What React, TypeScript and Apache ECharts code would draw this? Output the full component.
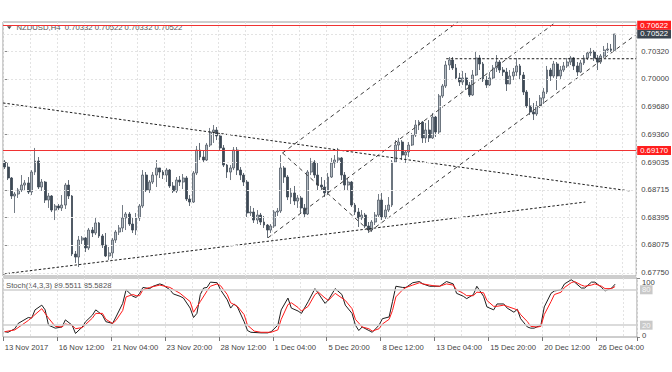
import React, { useEffect, useRef } from 'react';
import * as echarts from 'echarts';

const FONT = '"Liberation Sans", Arial, sans-serif';
const FS = 7.7;

const symbolName = 'NZDUSD,H4';
const timeLabels = ['13 Nov 2017', '16 Nov 12:00', '21 Nov 04:00', '23 Nov 20:00', '28 Nov 12:00', '1 Dec 04:00', '5 Dec 20:00', '8 Dec 12:00', '13 Dec 04:00', '15 Dec 20:00', '20 Dec 12:00', '26 Dec 04:00'];
const barsPerLabel = 16;
const barsPerGrid = 8;
const slots = 188; // bars + empty right shift

// prices in 1e-5 units
const firstOpen = 69037;
const closes = [
  68979, 68852, 68643, 68666, 68712, 68770, 68794, 68689, 68921, 69049,
  68747, 68805, 68596, 68643, 68480, 68527, 68504, 68538, 68770, 68643,
  67970, 67935, 68132, 68156, 68040, 68248, 68214, 68330, 68179, 68074,
  67947, 67982, 68132, 68225, 68272, 68388, 68434, 68318, 68248, 68388,
  68527, 68886, 68712, 68805, 68886, 68968, 68921, 68886, 68944, 68759,
  68701, 68828, 68805, 68852, 68608, 68573, 68910, 69176, 69095, 69060,
  69234, 69385, 69408, 69339, 69200, 69002, 68921, 68968, 69176, 68944,
  68886, 68805, 68446, 68457, 68364, 68422, 68341, 68306, 68248, 68295,
  68457, 68469, 68968, 68863, 68631, 68678, 68585, 68620, 68504, 68434,
  68921, 69037, 68886, 68770, 68747, 68678, 68863, 69026, 69060, 69084,
  68886, 68770, 68805, 68538, 68457, 68388, 68422, 68295, 68248, 68341,
  68422, 68596, 68399, 68480, 68538, 69037, 69234, 69269, 69118, 69153,
  69234, 69350, 69466, 69501, 69316, 69408, 69316, 69559, 69385, 69803,
  69919, 70162, 70220, 70128, 70012, 69965, 70012, 69930, 69814, 70046,
  70244, 70174, 69988, 69930, 70012, 70128, 70197, 70104, 70081, 69942,
  70035, 70081, 70151, 70046, 69849, 69687, 69617, 69594, 69687, 69780,
  69849, 70104, 70035, 70174, 70035, 70104, 70151, 70197, 70244, 70151,
  70081, 70186, 70244, 70302, 70313, 70244, 70197, 70267, 70336, 70348,
  70332, 70522,
];
const highs = [
  69060, 69026, 68863, 68689, 68736, 68886, 68828, 68863, 68944, 69200,
  69095, 68840, 68817, 68678, 68654, 68550, 68550, 68654, 68794, 68828,
  68654, 68005, 68179, 68179, 68167, 68272, 68283, 68388, 68341, 68202,
  68214, 68051, 68156, 68248, 68306, 68538, 68457, 68457, 68388, 68446,
  68550, 68944, 68921, 68828, 68921, 69060, 68968, 68944, 68968, 68956,
  68805, 68863, 68875, 68898, 68875, 68654, 68933, 69223, 69258, 69165,
  69258, 69432, 69466, 69443, 69374, 69234, 69014, 69002, 69211, 69211,
  68979, 68910, 68828, 68527, 68504, 68480, 68446, 68411, 68318, 68318,
  68480, 68504, 69118, 68991, 68886, 68736, 68759, 68654, 68643, 68550,
  68944, 69084, 69060, 69026, 68863, 68828, 68910, 69084, 69118, 69200,
  69095, 68921, 68852, 68817, 68562, 68504, 68480, 68446, 68341, 68364,
  68457, 68666, 68678, 68538, 68631, 69060, 69292, 69316, 69292, 69176,
  69269, 69374, 69524, 69524, 69513, 69490, 69524, 69606, 69571, 69826,
  69942, 70209, 70255, 70255, 70174, 70070, 70093, 70070, 69965, 70104,
  70313, 70278, 70197, 70035, 70081, 70162, 70278, 70220, 70139, 70128,
  70104, 70128, 70244, 70174, 70081, 69872, 69780, 69722, 69745, 69814,
  69896, 70151, 70128, 70209, 70197, 70151, 70197, 70244, 70267, 70255,
  70197, 70220, 70278, 70325, 70360, 70336, 70278, 70290, 70383, 70418,
  70406, 70522,
];
const lows = [
  68956, 68828, 68608, 68446, 68620, 68689, 68712, 68666, 68654, 68886,
  68724, 68701, 68562, 68504, 68457, 68364, 68480, 68469, 68492, 68608,
  67947, 67866, 67819, 68086, 67993, 68016, 68167, 68190, 68156, 68040,
  67935, 67900, 67924, 68098, 68190, 68225, 68248, 68295, 68214, 68190,
  68353, 68504, 68689, 68678, 68782, 68747, 68852, 68840, 68805, 68736,
  68678, 68678, 68759, 68724, 68585, 68527, 68562, 68886, 69060, 69026,
  69049, 69211, 69258, 69292, 69176, 68979, 68852, 68828, 68944, 68886,
  68828, 68759, 68399, 68411, 68330, 68318, 68306, 68272, 68156, 68214,
  68272, 68411, 68446, 68794, 68596, 68550, 68538, 68504, 68446, 68399,
  68422, 68886, 68852, 68712, 68712, 68631, 68654, 68852, 68968, 69026,
  68828, 68712, 68712, 68515, 68422, 68283, 68364, 68272, 68214, 68225,
  68306, 68399, 68364, 68376, 68457, 68515, 69026, 69176, 69060, 69026,
  69095, 69223, 69327, 69408, 69258, 69258, 69269, 69304, 69327, 69362,
  69780, 69896, 70104, 70104, 69988, 69919, 69930, 69872, 69791, 69803,
  70035, 70104, 69965, 69896, 69919, 69988, 70081, 70070, 70035, 69861,
  69942, 69988, 70035, 69988, 69814, 69664, 69582, 69524, 69571, 69664,
  69710, 69826, 69977, 70012, 69872, 69988, 70081, 70128, 70162, 70104,
  70035, 70070, 70162, 70220, 70267, 70209, 70104, 70174, 70244, 70302,
  70313, 70332,
];

const priceTicks = [0.6775, 0.68075, 0.68395, 0.68715, 0.69035, 0.6936, 0.6968, 0.7, 0.7032];
const priceMin = 0.67715;
const priceMax = 0.70661;
const redLevels = [0.70622, 0.6917];
const bidLevel = 0.70522;
const lastOHLC = [0.70332, 0.70522, 0.70332, 0.70522];

// trend objects: [barIndex, price]
const dottedLines = [
  [[-0.5, 0.69722], [185.7, 0.68701]],
  [[-0.5, 0.67738], [172.4, 0.68573]],
  [[131.1, 0.70235], [187.5, 0.70235]],
];
const channelLines = [
  [[82.5, 0.69142], [134.5, 0.70661]],
  [[78.2, 0.68159], [163.7, 0.70661]],
  [[108.3, 0.68229], [187.4, 0.70514]],
  [[82.5, 0.69142], [108.3, 0.68237]],
];

const stochK = [[0,9],[1,8],[3,14],[4,23],[7,33],[8,32],[9,46],[11,54],[12,46],[13,20],[15,15],[17,17],[18,29],[20,20],[21,6],[23,17],[24,26],[26,37],[27,46],[29,37],[30,26],[32,23],[33,34],[35,57],[36,80],[38,69],[39,67],[40,74],[41,84],[43,82],[44,86],[46,90],[47,88],[49,80],[50,73],[52,69],[53,66],[55,49],[56,33],[57,40],[58,72],[59,83],[60,84],[61,93],[63,92],[64,80],[66,63],[67,49],[68,56],[69,51],[71,26],[72,11],[73,8],[76,7],[78,7],[79,9],[81,20],[82,46],[84,66],[85,49],[87,44],[88,40],[90,60],[92,82],[93,74],[95,57],[96,63],[98,82],[100,72],[101,54],[103,40],[104,20],[105,11],[106,17],[108,11],[109,8],[111,20],[112,31],[114,34],[115,60],[116,86],[118,84],[119,84],[121,92],[123,94],[124,90],[126,86],[127,86],[129,86],[131,94],[133,90],[134,74],[136,69],[137,65],[139,72],[140,86],[142,69],[143,51],[145,46],[146,56],[148,56],[149,49],[151,42],[152,47],[153,31],[155,17],[156,15],[157,15],[159,20],[160,51],[162,74],[163,78],[165,80],[166,90],[168,97],[169,93],[171,83],[172,83],[174,93],[175,93],[177,84],[178,78],[180,83],[181,89.5511]];
const stochD = [[0,9],[3,12],[7,28],[9,38],[11,48],[13,32],[15,18],[17,17],[18,22],[20,20],[21,14],[23,16],[26,32],[27,40],[29,40],[30,30],[32,23],[33,28],[35,45],[36,68],[38,72],[39,70],[40,70],[41,80],[43,84],[46,88],[49,84],[52,74],[55,60],[56,42],[58,60],[60,78],[61,86],[63,90],[64,87],[66,72],[67,58],[69,52],[71,38],[72,20],[74,10],[76,8],[79,8],[81,12],[82,30],[84,55],[85,58],[87,50],[88,44],[90,52],[92,72],[93,76],[95,66],[96,62],[98,74],[101,62],[103,48],[104,30],[106,17],[108,14],[109,10],[111,14],[112,22],[114,30],[115,45],[116,68],[118,80],[119,84],[121,88],[123,92],[124,90],[126,88],[127,87],[129,86],[131,90],[133,88],[134,80],[136,74],[137,70],[139,70],[140,76],[142,75],[143,62],[145,52],[146,52],[148,54],[149,52],[151,48],[152,46],[153,38],[155,26],[156,18],[158,17],[159,18],[160,38],[162,60],[163,72],[165,76],[166,84],[168,92],[169,94],[171,88],[172,86],[174,88],[175,90],[177,86],[178,82],[180,82],[181,85.5828]];
const stochLevels = [20, 80];
const stochParams = '14,3,3';

export default function App() {
  const ref = useRef<HTMLDivElement>(null);
  useEffect(() => {
    if (!ref.current) return;
    const chart = echarts.init(ref.current, null, { renderer: 'svg' });

    const candles = closes.map((c, i) => [
      (i === 0 ? firstOpen : closes[i - 1]) / 1e5,
      c / 1e5,
      lows[i] / 1e5,
      highs[i] / 1e5,
    ]);
    const cats = Array.from({ length: slots }, (_, i) =>
      i % barsPerLabel === 0 && i / barsPerLabel < timeLabels.length ? timeLabels[i / barsPerLabel] : `b${i}`
    );
    const labelInterval = (i: number) => i % barsPerLabel === 0 && i / barsPerLabel < timeLabels.length;
    const gridInterval = (i: number) => i % barsPerGrid === 0;
    const gridLine = () => ({ color: '#e3e3e3', type: [2, 2], width: 1 });

    const fmt = (v: number) => v.toFixed(5);
    const lastK = stochK[stochK.length - 1][1];
    const lastD = stochD[stochD.length - 1][1];

    const trendSeries: any[] = [
      ...dottedLines.map((pts) => ({
        type: 'line', xAxisIndex: 2, yAxisIndex: 0, data: pts, symbol: 'none', silent: true, z: 4,
        lineStyle: { color: '#1e1e1e', width: 1, type: [2.5, 2] },
      })),
      ...channelLines.map((pts) => ({
        type: 'line', xAxisIndex: 2, yAxisIndex: 0, data: pts, symbol: 'none', silent: true, z: 4,
        lineStyle: { color: '#3c3c3c', width: 1, type: [4, 3.5] },
      })),
    ];

    const boxLabel = (bg: string, v: number) => ({
      show: true, position: 'end', distance: 1, backgroundColor: bg, color: '#ffffff',
      fontSize: FS, fontFamily: FONT, padding: [1, 3, 0, 3], lineHeight: 8, formatter: fmt(v),
    });

    chart.setOption({
      animation: false,
      backgroundColor: '#ffffff',
      textStyle: { fontFamily: FONT },
      grid: [
        { left: 3, top: 22, width: 634, height: 254, show: true, borderColor: '#9c9c9c', borderWidth: 1 },
        { left: 3, top: 278, width: 634, height: 59, show: true, borderColor: '#9c9c9c', borderWidth: 1 },
      ],
      xAxis: [
        {
          type: 'category', gridIndex: 0, data: cats, boundaryGap: true,
          axisLine: { show: false }, axisTick: { show: false }, axisLabel: { show: false },
          splitLine: { show: true, interval: gridInterval, lineStyle: gridLine() },
        },
        {
          type: 'category', gridIndex: 1, data: cats, boundaryGap: true,
          axisLine: { show: false },
          axisTick: { show: true, interval: labelInterval, length: 4, lineStyle: { color: '#777' } },
          axisLabel: { show: true, interval: labelInterval, align: 'left', margin: 6, color: '#444', fontSize: FS, fontFamily: FONT },
          splitLine: { show: true, interval: gridInterval, lineStyle: gridLine() },
        },
        { type: 'value', gridIndex: 0, min: -0.5, max: slots - 0.5, show: false, position: 'top' },
      ],
      yAxis: [
        {
          type: 'value', gridIndex: 0, position: 'right', min: priceMin, max: priceMax,
          axisLine: { show: false },
          axisTick: { show: true, customValues: priceTicks, length: 3, lineStyle: { color: '#888' } },
          axisLabel: { customValues: priceTicks, formatter: fmt, margin: 5, color: '#444', fontSize: FS, fontFamily: FONT },
          splitLine: { show: false },
        },
        {
          type: 'value', gridIndex: 1, position: 'right', min: 0, max: 100,
          axisLine: { show: false },
          axisTick: { show: true, customValues: [0, 100], length: 3, lineStyle: { color: '#888' } },
          axisLabel: {
            customValues: [0, 100], margin: 5, color: '#444', fontSize: FS, fontFamily: FONT,
            formatter: (v: number) => (v === 100 ? '{hi|100}' : '{lo|0}'),
            rich: {
              hi: { padding: [8, 0, 0, 0], fontSize: FS, fontFamily: FONT, color: '#444' },
              lo: { padding: [0, 0, 3, 0], fontSize: FS, fontFamily: FONT, color: '#444' },
            },
          },
          splitLine: { show: false },
        },
      ],
      series: [
        {
          type: 'candlestick', xAxisIndex: 0, yAxisIndex: 0, data: candles, barWidth: 2.4, z: 3,
          itemStyle: { color: '#b3bac1', color0: '#3d4955', borderColor: '#505b66', borderColor0: '#3d4955', borderWidth: 0.8 },
          markLine: {
            silent: true, symbol: ['none', 'none'], animation: false, precision: 5,
            data: [
              ...priceTicks.map((v) => ({ yAxis: v, lineStyle: gridLine(), label: { show: false } })),
              { yAxis: bidLevel, lineStyle: gridLine(), label: boxLabel('#3b4550', bidLevel) },
              ...redLevels.map((v) => ({
                yAxis: v, lineStyle: { color: '#f03232', width: 1, type: 'solid' },
                label: boxLabel('#ff1e1e', v),
              })),
            ],
          },
        },
        ...trendSeries,
        {
          type: 'line', xAxisIndex: 1, yAxisIndex: 1, data: stochK, symbol: 'none', silent: true, z: 3,
          lineStyle: { color: '#1e1e1e', width: 1 },
          markLine: {
            silent: true, symbol: ['none', 'none'], precision: 0,
            data: stochLevels.map((v) => ({ yAxis: v })),
            lineStyle: { color: '#cfcfcf', width: 1.5, type: 'solid' },
            label: {
              show: true, position: 'end', distance: 3, formatter: '{c}', backgroundColor: '#c9c9c9', color: '#f7f7f7',
              fontSize: FS, fontFamily: FONT, padding: [1, 2, 0, 2], lineHeight: 8,
            },
          },
        },
        {
          type: 'line', xAxisIndex: 1, yAxisIndex: 1, data: stochD, symbol: 'none', silent: true, z: 4,
          lineStyle: { color: '#ff1a1a', width: 1 },
        },
      ],
      graphic: [
        { type: 'polygon', shape: { points: [[7, 26.3], [11.6, 26.3], [9.3, 29.3]] }, style: { fill: '#4d4d4d' } },
        {
          type: 'text', x: 16.5, y: 27.6,
          style: { text: `${symbolName}  ${lastOHLC.map(fmt).join(' ')}`, fill: '#555', fontSize: FS, fontFamily: FONT, verticalAlign: 'middle' },
        },
        {
          type: 'text', x: 6, y: 285.3,
          style: { text: `Stoch(${stochParams}) ${lastK.toFixed(4)} ${lastD.toFixed(4)}`, fill: '#555', fontSize: FS, fontFamily: FONT, verticalAlign: 'middle' },
        },
      ],
    });
    return () => chart.dispose();
  }, []);
  return <div ref={ref} style={{ position: 'absolute', left: 0, top: 0, width: 672, height: 372 }} />;
}
